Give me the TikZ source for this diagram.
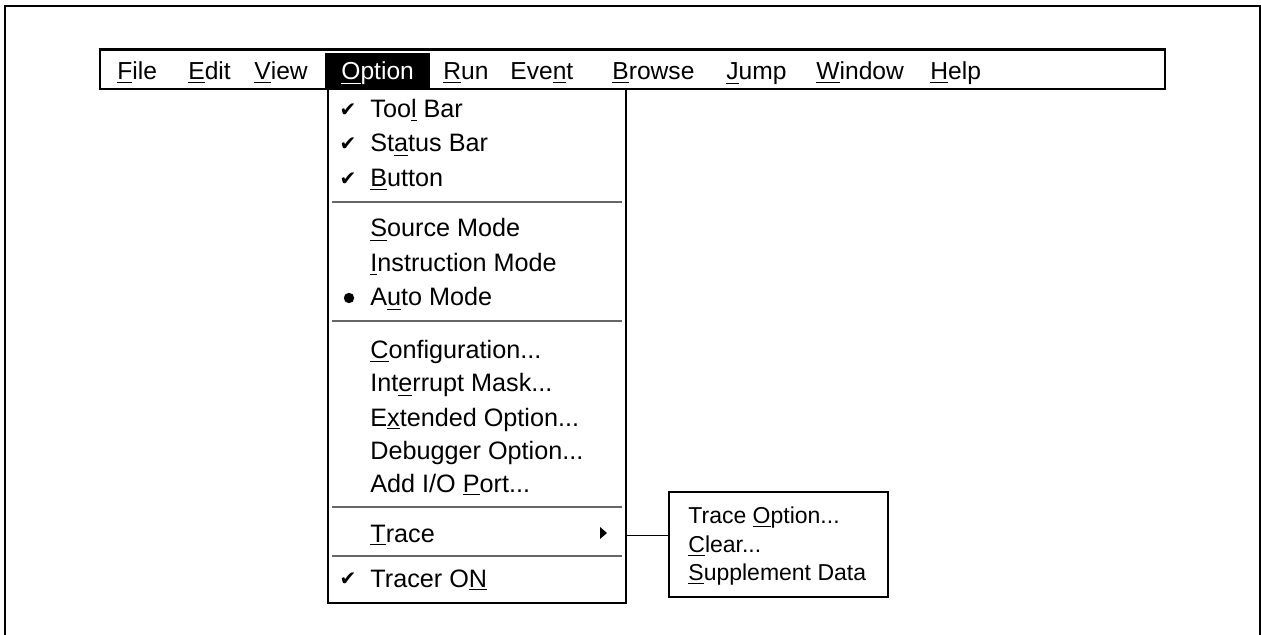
\documentclass[tikz,border=0pt]{standalone}
\usepackage{fontspec}
\setmainfont{Liberation Sans}
\newfontfamily\symfont{DejaVu Sans}
\usetikzlibrary{fit}
\newcommand\mn[1]{\underline{#1}}
\begin{document}
\begin{tikzpicture}[x=0.5pt,y=-0.5pt,
  bartext/.style={anchor=base west, inner sep=0, font=\fontsize{12.3}{15}\selectfont},
  item/.style={anchor=base west, inner sep=0, font=\fontsize{12.6}{15}\selectfont},
  subitem/.style={anchor=base west, inner sep=0, font=\fontsize{11.5}{14}\selectfont},
  chk/.style={inner sep=0, font=\symfont\fontsize{10}{10}\selectfont},
  dot/.style={circle, fill=black, inner sep=0, minimum size=5.2pt},
  sepline/.style={draw=black!60, line width=1pt},
  box/.style={draw=black, fill=white, inner sep=0}
]
\useasboundingbox (0,0) rectangle (1261,635);
\fill[white] (0,0) rectangle (1261,635);
% outer frame (open at the bottom)
\coordinate (f1) at (5,640);
\coordinate (f2) at (5,6);
\coordinate (f3) at (1260,6);
\coordinate (f4) at (1260,640);
\draw[line width=1pt] (f1) -- (f2) -- (f3) -- (f4);

% menu bar
\coordinate (mb1) at (100,50);
\coordinate (mb2) at (1165,89);
\node[box, fit=(mb1)(mb2), line width=0.8pt] (bar) {};
\draw[line width=1.6pt] (bar.north west) -- (bar.north east);
\coordinate (hl1) at (325,53);
\coordinate (hl2) at (430,89);
\node[fit=(hl1)(hl2), fill=black, inner sep=0] (hl) {};

\node[bartext] (mFile) at (117,80) {\mn{F}ile};
\node[bartext] (mEdit) at (188,80) {\mn{E}dit};
\node[bartext] (mView) at (254,80) {\mn{V}iew};
\node[bartext, text=white] (mOption) at (341,80) {\mn{O}ption};
\node[bartext] (mRun) at (443,80) {\mn{R}un};
\node[bartext] (mEvent) at (510,80) {Eve\mn{n}t};
\node[bartext] (mBrowse) at (612,80) {\mn{B}rowse};
\node[bartext] (mJump) at (726,80) {\mn{J}ump};
\node[bartext] (mWindow) at (816,80) {\mn{W}indow};
\node[bartext] (mHelp) at (930,80) {\mn{H}elp};

% drop-down menu
\coordinate (dd1) at (328,89);
\coordinate (dd2) at (626,603);
\node[box, fit=(dd1)(dd2), line width=1.3pt] (dd) {};

\node[item] (iTool) at (370,118) {Too\mn{l} Bar};
\node[item] (iStatus) at (370,152) {St\mn{a}tus Bar};
\node[item] (iButton) at (370,187) {\mn{B}utton};
\draw[sepline] (332,202) -- (622,202);
\node[item] (iSource) at (370,237) {\mn{S}ource Mode};
\node[item] (iInstr) at (370,272) {\mn{I}nstruction Mode};
\node[item] (iAuto) at (370,306) {A\mn{u}to Mode};
\draw[sepline] (332,321) -- (622,321);
\node[item] (iConf) at (370,358) {\mn{C}onfiguration...};
\node[item] (iIntr) at (370,392) {Int\mn{e}rrupt Mask...};
\node[item] (iExt) at (370,426) {E\mn{x}tended Option...};
\node[item] (iDbg) at (370,459) {Debugger Option...};
\node[item] (iAdd) at (370,492) {Add I/O \mn{P}ort...};
\draw[sepline] (332,507) -- (622,507);
\node[item] (iTrace) at (370,542) {\mn{T}race};
\draw[sepline] (332,556) -- (622,556);
\node[item] (iTracer) at (370,587) {Tracer O\mn{N}};

% marks
\node[chk] (c1) at (348,110) {✔};
\node[chk] (c2) at (348,144) {✔};
\node[chk] (c3) at (348,179) {✔};
\node[dot] (d1) at (349,298) {};
\node[chk] (c4) at (348,579) {✔};
\fill (600,527) -- (607,533) -- (600,539) -- cycle;

% submenu
\coordinate (sb1) at (669,492);
\coordinate (sb2) at (888,597);
\node[box, fit=(sb1)(sb2), line width=1pt] (sub) {};
\node[subitem] (sOpt) at (688,523) {Trace \mn{O}ption...};
\node[subitem] (sClr) at (688,552) {\mn{C}lear...};
\node[subitem] (sSup) at (688,580) {\mn{S}upplement Data};

\draw[line width=0.8pt] (dd.east |- iTrace) -- (sub.west |- iTrace);
\end{tikzpicture}
\end{document}
